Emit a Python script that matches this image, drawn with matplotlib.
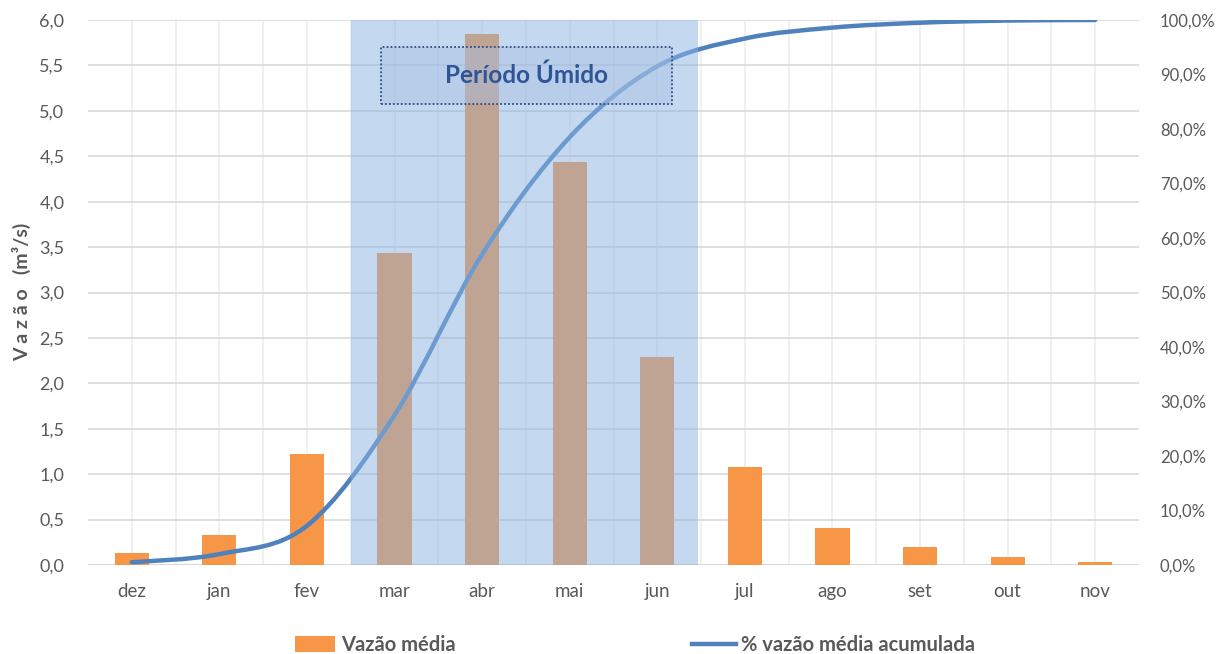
import matplotlib
matplotlib.use("Agg")
import matplotlib.pyplot as plt
from matplotlib.path import Path
from matplotlib.patches import PathPatch, Rectangle, Patch
from matplotlib.lines import Line2D
from matplotlib.ticker import FuncFormatter

plt.rcParams['font.family'] = ['Lato', 'DejaVu Sans']

# ---- data ----
months = ['dez', 'jan', 'fev', 'mar', 'abr', 'mai', 'jun', 'jul', 'ago', 'set', 'out', 'nov']
vazao_media = [0.13, 0.33, 1.22, 3.43, 5.85, 4.44, 2.29, 1.08, 0.41, 0.20, 0.085, 0.03]
pct_acumulada = [0.5, 2.0, 7.2, 27.5, 57.0, 78.5, 91.5, 96.6, 98.6, 99.5, 99.9, 100.0]
wet_start, wet_end = 'mar', 'jun'
y_ticks = [0.0, 0.5, 1.0, 1.5, 2.0, 2.5, 3.0, 3.5, 4.0, 4.5, 5.0, 5.5, 6.0]
pct_ticks = [0, 10, 20, 30, 40, 50, 60, 70, 80, 90, 100]

ORANGE = '#F79646'
BLUE = '#4F81BD'
TXT = '#595959'

fig = plt.figure(figsize=(12.16, 6.54), dpi=100)
ax = fig.add_axes([88/1216, 1-565/654, (1139-88)/1216, (565-20)/654])
ax2 = ax.twinx()

x = list(range(len(months)))
ax.bar(x, vazao_media, width=0.39, color=ORANGE, zorder=3)

ax.set_xlim(-0.5, len(months)-0.5)
ax.set_ylim(0, 6.0)
ax.set_yticks(y_ticks)
ax.yaxis.set_major_formatter(FuncFormatter(lambda v, p: f"{v:.1f}".replace('.', ',')))
ax.set_xticks(x)
ax.set_xticklabels(months)

# grid
for yv in y_ticks[1:]:
    ax.axhline(yv, color='#D9D9D9', lw=1.2, zorder=1)
for k in range(0, 2*len(months)-1):
    ax.axvline(k/2, color='#EDEDED', lw=1.2, zorder=0.9)
ax.axhline(0, color='#D9D9D9', lw=1.5, zorder=2)

for s in ax.spines.values():
    s.set_visible(False)
for s in ax2.spines.values():
    s.set_visible(False)

ax.tick_params(axis='both', length=0, colors=TXT)
ax.tick_params(axis='y', pad=17, labelsize=13)
ax.tick_params(axis='x', pad=13, labelsize=13.5)

# secondary axis
ax2.set_ylim(0, 100)
ax2.set_yticks(pct_ticks)
ax2.yaxis.set_major_formatter(FuncFormatter(lambda v, p: f"{v:.1f}%".replace('.', ',')))
ax2.tick_params(axis='y', length=0, colors=TXT, labelsize=12, pad=15)

# smoothed cumulative line (Bezier through data points)
n = len(pct_acumulada)
verts = [(x[0], pct_acumulada[0])]
codes = [Path.MOVETO]
for i in range(n-1):
    p0 = (x[max(i-1, 0)], pct_acumulada[max(i-1, 0)])
    p1 = (x[i], pct_acumulada[i])
    p2 = (x[i+1], pct_acumulada[i+1])
    p3 = (x[min(i+2, n-1)], pct_acumulada[min(i+2, n-1)])
    c1 = (p1[0] + (p2[0]-p0[0])/6, p1[1] + (p2[1]-p0[1])/6)
    c2 = (p2[0] - (p3[0]-p1[0])/6, p2[1] - (p3[1]-p1[1])/6)
    verts += [c1, c2, p2]
    codes += [Path.CURVE4]*3
ax2.add_patch(PathPatch(Path(verts, codes), facecolor='none', edgecolor=BLUE,
                        lw=3.2, capstyle='round', zorder=3))

# wet period shading
i0, i1 = months.index(wet_start), months.index(wet_end)
ax2.axvspan(i0-0.5, i1+0.47, color='#8BB3E1', alpha=0.5, lw=0, zorder=4)

# label box
ax2.add_patch(Rectangle((2.845, 5.075), 6.167-2.845, 5.70-5.075, transform=ax.transData,
                        facecolor='#A9C0E3', alpha=0.45, edgecolor='none', zorder=5))
ax2.add_patch(Rectangle((2.845, 5.075), 6.167-2.845, 5.70-5.075, transform=ax.transData,
                        facecolor='none', edgecolor='#2F4B85', lw=1.3, ls=(0, (1, 1.2)), zorder=6))
ax2.text((2.845+6.167)/2, (5.075+5.70)/2, 'Período Úmido', transform=ax.transData,
         ha='center', va='center', fontsize=17.5, fontweight='bold', color='#2F5597', zorder=7)

# y label
fig.text(22/1216, 1-292/654, 'V a z ã o   (m³/s)', rotation=90, ha='center', va='center',
         fontsize=14, fontweight='bold', color=TXT)

# legends
fig.legend(handles=[Patch(facecolor=ORANGE, edgecolor='none')], labels=['Vazão média'],
           loc='center left', bbox_to_anchor=(295/1216, 1-645/654), frameon=False,
           handlelength=2.0, handleheight=0.8, handletextpad=0.3, borderpad=0, borderaxespad=0,
           prop={'size': 14.5, 'weight': 'bold'}, labelcolor=TXT)
fig.legend(handles=[Line2D([0], [0], color=BLUE, lw=3.2)], labels=['% vazão média acumulada'],
           loc='center left', bbox_to_anchor=(692/1216, 1-645/654), frameon=False,
           handlelength=2.2, handletextpad=0.25, borderpad=0, borderaxespad=0,
           prop={'size': 14.5, 'weight': 'bold'}, labelcolor=TXT)

fig.savefig('out.png', dpi=100)
